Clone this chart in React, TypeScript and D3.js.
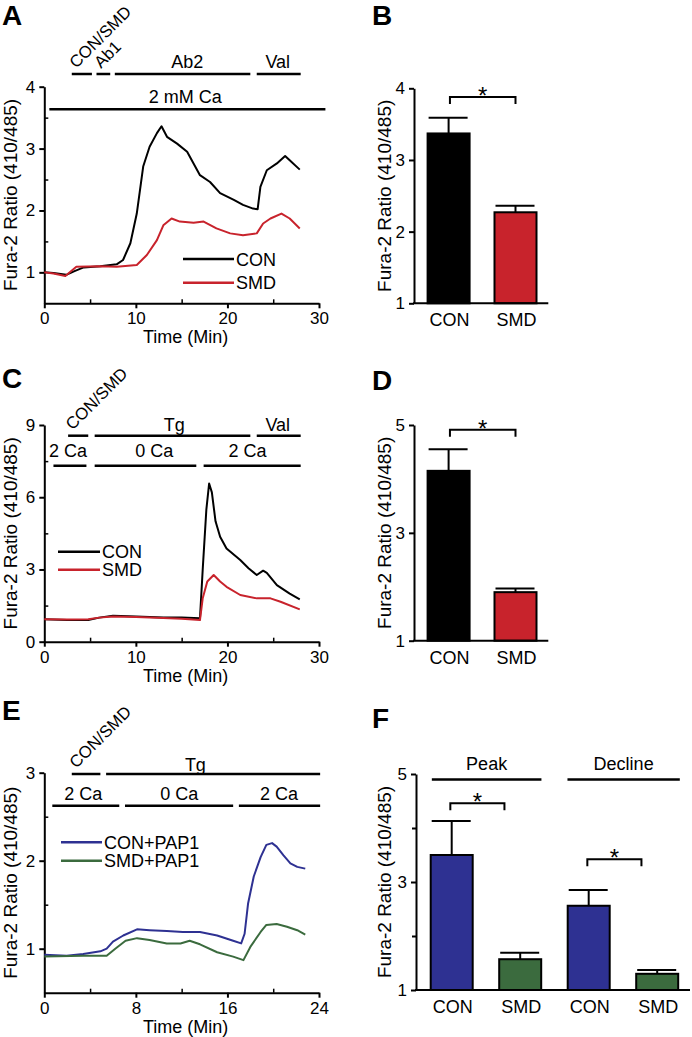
import React, { useEffect, useRef } from 'react';
import * as d3 from 'd3';

type Pt = [number, number];

const FONT = '"Liberation Sans", Arial, Helvetica, sans-serif';
const RED = '#c8232c';
const BLUE = '#2e3192';
const GREEN = '#3b6b3e';

// traces: [time (min), Fura-2 ratio]
const conA: Pt[] = [[0, 1.0], [1, 0.99], [2.4, 0.96], [3.3, 1.02], [4.3, 1.08], [6.1, 1.1], [7.9, 1.13], [8.6, 1.2], [9.4, 1.47], [10.1, 1.95], [10.8, 2.71], [11.5, 3.03], [12.3, 3.25], [12.8, 3.36], [13.4, 3.19], [14.5, 3.08], [15.6, 2.95], [16.3, 2.76], [17.0, 2.57], [18.1, 2.46], [19.2, 2.28], [20.7, 2.17], [21.7, 2.09], [22.8, 2.03], [23.3, 2.02], [23.6, 2.38], [24.3, 2.65], [25.4, 2.76], [26.3, 2.88], [26.8, 2.81], [27.9, 2.66]];
const smdA: Pt[] = [[0, 1.0], [1, 0.98], [2.3, 0.94], [3.5, 1.09], [6.1, 1.1], [7.9, 1.09], [10.1, 1.12], [11.2, 1.28], [12.3, 1.52], [13.0, 1.76], [13.9, 1.87], [14.8, 1.82], [16.3, 1.8], [17.4, 1.82], [18.8, 1.71], [20.3, 1.63], [21.7, 1.6], [23.2, 1.63], [23.9, 1.79], [24.7, 1.87], [25.9, 1.95], [26.8, 1.87], [27.9, 1.71]];

const conC: Pt[] = [[0, 0.93], [2.5, 0.9], [4.8, 0.9], [6, 1.0], [7.5, 1.08], [10, 1.05], [13, 1.0], [15, 1.0], [17.0, 0.97], [17.3, 3.0], [17.7, 5.5], [18.0, 6.57], [18.3, 6.2], [18.7, 5.0], [19.2, 4.36], [19.9, 3.87], [21.4, 3.39], [22.3, 3.05], [23.2, 2.77], [23.9, 2.95], [24.3, 2.86], [25.4, 2.35], [26.8, 2.0], [27.9, 1.76]];
const smdC: Pt[] = [[0, 0.93], [2.5, 0.92], [4.8, 0.93], [6, 1.0], [7.5, 1.05], [10, 1.03], [13, 0.98], [15, 0.95], [17.0, 0.9], [17.3, 1.8], [17.8, 2.5], [18.5, 2.77], [19.2, 2.5], [19.9, 2.28], [21.4, 1.94], [23.2, 1.8], [24.7, 1.8], [25.8, 1.66], [27.9, 1.34]];

const conE: Pt[] = [[0, 0.93], [1.95, 0.92], [3.4, 0.94], [4.9, 0.97], [5.45, 1.0], [6.0, 1.08], [6.9, 1.15], [8.1, 1.22], [9.2, 1.21], [10.7, 1.2], [12.1, 1.19], [13.6, 1.19], [15.1, 1.15], [16.5, 1.09], [17.2, 1.06], [17.5, 1.17], [17.8, 1.51], [18.3, 1.82], [18.9, 2.04], [19.4, 2.18], [19.9, 2.2], [20.3, 2.16], [20.9, 2.06], [21.5, 1.97], [22.1, 1.93], [22.8, 1.91]];
const smdE: Pt[] = [[0, 0.91], [3.4, 0.92], [5.45, 0.92], [6.2, 1.0], [7.1, 1.09], [8.1, 1.12], [9.2, 1.1], [10.7, 1.06], [11.9, 1.06], [12.7, 1.09], [13.6, 1.05], [15.1, 0.96], [16.5, 0.91], [17.4, 0.87], [18.0, 1.02], [18.9, 1.19], [19.4, 1.27], [20.3, 1.28], [21.2, 1.25], [22.1, 1.21], [22.8, 1.16]];

// bar summaries (mean, sem)
const catsB = ['CON', 'SMD'];
const meanB = [3.37, 2.27];
const semB = [0.22, 0.09];
const catsD = ['CON', 'SMD'];
const meanD = [4.15, 1.9];
const semD = [0.4, 0.07];
const catsF = ['CON', 'SMD', 'CON', 'SMD'];
const meanF = [3.5, 1.57, 2.56, 1.3];
const semF = [0.63, 0.12, 0.29, 0.07];
const groupsF = ['Peak', 'Decline'];

// treatment periods: label, start, end, label position (min)
interface Step { label: string; start: number; end: number; at: number; rot?: boolean }
const stepsA: Step[] = [
  { label: 'CON/SMD', start: 3.0, end: 5.2, at: 3.0, rot: true },
  { label: 'Ab1', start: 5.7, end: 7.2, at: 5.7, rot: true },
  { label: 'Ab2', start: 7.7, end: 22.5, at: 15.6 },
  { label: 'Val', start: 23.2, end: 28, at: 25.5 },
];
const calciumA: Step[] = [{ label: '2 mM Ca', start: 0.55, end: 30.7, at: 15.4 }];
const stepsC: Step[] = [
  { label: 'CON/SMD', start: 2.6, end: 4.8, at: 2.6, rot: true },
  { label: 'Tg', start: 5.5, end: 22.5, at: 14.2 },
  { label: 'Val', start: 23.2, end: 28, at: 25.5 },
];
const calciumC: Step[] = [
  { label: '2 Ca', start: 1.0, end: 4.6, at: 2.6 },
  { label: '0 Ca', start: 5.5, end: 16.6, at: 12.0 },
  { label: '2 Ca', start: 17.4, end: 28, at: 22.2 },
];
const stepsE: Step[] = [
  { label: 'CON/SMD', start: 2.4, end: 4.9, at: 2.4, rot: true },
  { label: 'Tg', start: 5.4, end: 24.1, at: 13.2 },
];
const calciumE: Step[] = [
  { label: '2 Ca', start: 0.7, end: 6.55, at: 3.4 },
  { label: '0 Ca', start: 7.05, end: 16.5, at: 11.8 },
  { label: '2 Ca', start: 17.0, end: 24.1, at: 20.5 },
];

type G = d3.Selection<SVGGElement, unknown, null, undefined>;
const fmt = d3.format('d');

function styleAxis(g: G, size: number) {
  g.select('.domain').attr('stroke', '#000').attr('stroke-width', 2);
  g.selectAll('.tick line').attr('stroke', '#000').attr('stroke-width', 2);
  g.selectAll('.tick text').attr('fill', '#000').attr('font-size', size).attr('font-family', FONT);
}

function letter(svg: G, t: string, x: number, y: number) {
  svg.append('text').attr('x', x).attr('y', y).attr('font-size', 28).attr('font-weight', 'bold')
    .attr('font-family', FONT).text(t);
}

function yLabel(svg: G, x: number, y: number) {
  svg.append('text').attr('transform', `translate(${x},${y}) rotate(-90)`).attr('text-anchor', 'middle')
    .attr('font-size', 19).attr('font-family', FONT).text('Fura-2 Ratio (410/485)');
}

interface TraceCfg {
  letter: string; ly: number;
  x: d3.ScaleLinear<number, number>; y: d3.ScaleLinear<number, number>;
  xMajor: number[]; xMinor: number[]; yMajor: number[]; yMinor: number[];
  series: { pts: Pt[]; color: string; label: string }[];
  legend: { x1: number; x2: number; y: number; gap: number };
  rows: { steps: Step[]; y: number; textDy: number }[];
}

function drawTrace(svg: G, c: TraceCfg) {
  const [x0, x1] = c.x.range();
  const [yb, yt] = c.y.range();
  letter(svg, c.letter, 2, c.ly);

  const ga = svg.append('g').attr('transform', `translate(0,${yb})`);
  ga.call(d3.axisBottom(c.x).tickValues(c.xMajor).tickFormat(d => fmt(d as number))
    .tickSize(5).tickSizeOuter(0).tickPadding(4));
  styleAxis(ga, 17);
  const gm = svg.append('g').attr('transform', `translate(0,${yb})`);
  gm.call(d3.axisTop(c.x).tickValues(c.xMinor).tickSize(4).tickFormat(() => ''));
  gm.select('.domain').remove();
  gm.selectAll('.tick line').attr('stroke', '#000').attr('stroke-width', 1.5);

  const gy = svg.append('g').attr('transform', `translate(${x0},0)`);
  gy.call(d3.axisLeft(c.y).tickValues(c.yMajor).tickFormat(d => fmt(d as number))
    .tickSize(5).tickSizeOuter(0).tickPadding(4));
  styleAxis(gy, 17);
  const gym = svg.append('g').attr('transform', `translate(${x0},0)`);
  gym.call(d3.axisRight(c.y).tickValues(c.yMinor).tickSize(4).tickFormat(() => ''));
  gym.select('.domain').remove();
  gym.selectAll('.tick line').attr('stroke', '#000').attr('stroke-width', 1.5);

  svg.append('text').attr('x', (x0 + x1) / 2 + 4).attr('y', yb + 40).attr('text-anchor', 'middle')
    .attr('font-size', 18).attr('font-family', FONT).text('Time (Min)');
  yLabel(svg, 17, (yb + yt) / 2);

  const line = d3.line<Pt>().x(d => c.x(d[0])).y(d => c.y(d[1]));
  c.series.forEach(s => {
    svg.append('path').datum(s.pts).attr('d', line).attr('fill', 'none')
      .attr('stroke', s.color).attr('stroke-width', 2).attr('stroke-linejoin', 'round');
  });

  c.series.forEach((s, i) => {
    const ly = c.legend.y + i * c.legend.gap;
    svg.append('line').attr('x1', c.legend.x1).attr('x2', c.legend.x2).attr('y1', ly).attr('y2', ly)
      .attr('stroke', s.color).attr('stroke-width', 2.5);
    svg.append('text').attr('x', c.legend.x2 + 2).attr('y', ly + 6.5).attr('font-size', 18)
      .attr('font-family', FONT).text(s.label);
  });

  c.rows.forEach(r => {
    r.steps.forEach(s => {
      svg.append('line').attr('x1', c.x(s.start)).attr('x2', c.x(s.end)).attr('y1', r.y).attr('y2', r.y)
        .attr('stroke', '#000').attr('stroke-width', 2.5);
      const t = svg.append('text').attr('font-family', FONT).text(s.label);
      if (s.rot) {
        t.attr('font-size', 16.8).attr('transform', `translate(${c.x(s.at) + 4.5},${r.y - 5}) rotate(-45)`);
      } else {
        t.attr('font-size', 18).attr('x', c.x(s.at)).attr('y', r.y + r.textDy).attr('text-anchor', 'middle');
      }
    });
  });
}

interface BarCfg {
  letter: string; ly: number;
  x: d3.ScaleLinear<number, number>; y: d3.ScaleLinear<number, number>;
  axisX: [number, number];
  yMajor: number[]; yMinor: number[];
  cats: string[]; mean: number[]; sem: number[]; colors: string[];
  brackets: { from: number; to: number; level: number }[];
  groups?: { label: string; from: number; to: number; level: number }[];
}

function drawBars(svg: G, c: BarCfg) {
  const [yb, yt] = c.y.range();
  const bw = 42;
  letter(svg, c.letter, 372, c.ly);

  c.mean.forEach((m, i) => {
    const cx = c.x(i);
    svg.append('line').attr('x1', cx).attr('x2', cx).attr('y1', c.y(m)).attr('y2', c.y(m + c.sem[i]))
      .attr('stroke', '#000').attr('stroke-width', 2);
    svg.append('line').attr('x1', cx - bw / 2 + 1).attr('x2', cx + bw / 2 - 2)
      .attr('y1', c.y(m + c.sem[i])).attr('y2', c.y(m + c.sem[i])).attr('stroke', '#000').attr('stroke-width', 2);
    svg.append('rect').attr('x', cx - bw / 2).attr('y', c.y(m)).attr('width', bw).attr('height', yb - c.y(m))
      .attr('fill', c.colors[i]).attr('stroke', '#000').attr('stroke-width', 2);
    svg.append('text').attr('x', cx + 1).attr('y', yb + 23).attr('text-anchor', 'middle').attr('font-size', 18)
      .attr('font-family', FONT).text(c.cats[i]);
  });

  const gy = svg.append('g').attr('transform', `translate(${c.axisX[0]},0)`);
  gy.call(d3.axisLeft(c.y).tickValues(c.yMajor).tickFormat(d => fmt(d as number))
    .tickSize(5).tickSizeOuter(0).tickPadding(4));
  styleAxis(gy, 17);
  if (c.yMinor.length) {
    const gm = svg.append('g').attr('transform', `translate(${c.axisX[0]},0)`);
    gm.call(d3.axisLeft(c.y).tickValues(c.yMinor).tickSize(4).tickFormat(() => ''));
    gm.select('.domain').remove();
    gm.selectAll('.tick line').attr('stroke', '#000').attr('stroke-width', 2);
  }
  svg.append('line').attr('x1', c.axisX[0] - 1).attr('x2', c.axisX[1]).attr('y1', yb).attr('y2', yb)
    .attr('stroke', '#000').attr('stroke-width', 2);
  yLabel(svg, 391, (yb + yt) / 2);

  c.brackets.forEach(b => {
    const xa = c.x(b.from), xb = c.x(b.to), yy = c.y(b.level);
    svg.append('path').attr('d', `M${xa},${yy + 7}V${yy}H${xb}V${yy + 7}`).attr('fill', 'none')
      .attr('stroke', '#000').attr('stroke-width', 2);
    svg.append('text').attr('x', (xa + xb) / 2).attr('y', yy + 7).attr('text-anchor', 'middle')
      .attr('font-size', 24).attr('font-family', FONT).text('*');
  });

  (c.groups || []).forEach(g => {
    const yy = c.y(g.level);
    svg.append('line').attr('x1', c.x(g.from)).attr('x2', c.x(g.to)).attr('y1', yy).attr('y2', yy)
      .attr('stroke', '#000').attr('stroke-width', 2.5);
    svg.append('text').attr('x', (c.x(g.from) + c.x(g.to)) / 2).attr('y', yy - 9).attr('text-anchor', 'middle')
      .attr('font-size', 18).attr('font-family', FONT).text(g.label);
  });
}

const App: React.FC = () => {
  const ref = useRef<SVGSVGElement>(null);

  useEffect(() => {
    if (!ref.current) return;
    const root = d3.select(ref.current);
    root.selectAll('*').remove();
    const svg = root.append('g') as unknown as G;

    const xT = d3.scaleLinear().domain([0, 30]).range([44.3, 319]);

    drawTrace(svg, {
      letter: 'A', ly: 25,
      x: xT, y: d3.scaleLinear().domain([0.5, 4]).range([303.3, 86.7]),
      xMajor: [0, 10, 20, 30], xMinor: [5, 15, 25], yMajor: [1, 2, 3, 4], yMinor: [1.5, 2.5, 3.5],
      series: [{ pts: conA, color: '#000', label: 'CON' }, { pts: smdA, color: RED, label: 'SMD' }],
      legend: { x1: 183, x2: 234, y: 259, gap: 23.7 },
      rows: [{ steps: stepsA, y: 74, textDy: -6 }, { steps: calciumA, y: 109.3, textDy: -6.5 }],
    });

    drawTrace(svg, {
      letter: 'C', ly: 388,
      x: xT, y: d3.scaleLinear().domain([0, 9]).range([641.7, 425]),
      xMajor: [0, 10, 20, 30], xMinor: [5, 15, 25], yMajor: [0, 3, 6, 9], yMinor: [1.5, 4.5, 7.5],
      series: [{ pts: conC, color: '#000', label: 'CON' }, { pts: smdC, color: RED, label: 'SMD' }],
      legend: { x1: 58, x2: 100, y: 551.7, gap: 18 },
      rows: [{ steps: stepsC, y: 435.7, textDy: -4.5 }, { steps: calciumC, y: 465.7, textDy: -9 }],
    });

    drawTrace(svg, {
      letter: 'E', ly: 720,
      x: d3.scaleLinear().domain([0, 24]).range([44.3, 319]),
      y: d3.scaleLinear().domain([0.5, 3]).range([992.7, 772.7]),
      xMajor: [0, 8, 16, 24], xMinor: [4, 12, 20], yMajor: [1, 2, 3], yMinor: [1.5, 2.5],
      series: [{ pts: conE, color: BLUE, label: 'CON+PAP1' }, { pts: smdE, color: GREEN, label: 'SMD+PAP1' }],
      legend: { x1: 61, x2: 102, y: 842.3, gap: 18.4 },
      rows: [{ steps: stepsE, y: 774, textDy: -3 }, { steps: calciumE, y: 805.7, textDy: -5.7 }],
    });

    drawBars(svg, {
      letter: 'B', ly: 25,
      x: d3.scaleLinear().domain([0, 1]).range([448.6, 515.5]),
      y: d3.scaleLinear().domain([1, 4]).range([303.3, 88.3]),
      axisX: [414, 548.3], yMajor: [1, 2, 3, 4], yMinor: [],
      cats: catsB, mean: meanB, sem: semB, colors: ['#000', RED],
      brackets: [{ from: 0.02, to: 1.0, level: 3.88 }],
    });

    drawBars(svg, {
      letter: 'D', ly: 390,
      x: d3.scaleLinear().domain([0, 1]).range([448.6, 515.5]),
      y: d3.scaleLinear().domain([1, 5]).range([640.7, 425]),
      axisX: [414, 548.3], yMajor: [1, 3, 5], yMinor: [],
      cats: catsD, mean: meanD, sem: semD, colors: ['#000', RED],
      brackets: [{ from: 0.02, to: 1.0, level: 4.91 }],
    });

    drawBars(svg, {
      letter: 'F', ly: 728,
      x: d3.scaleLinear().domain([0, 3]).range([451.7, 657.2]),
      y: d3.scaleLinear().domain([1, 5]).range([990, 774]),
      axisX: [416, 690], yMajor: [1, 3, 5], yMinor: [2, 4],
      cats: catsF, mean: meanF, sem: semF, colors: [BLUE, GREEN, BLUE, GREEN],
      brackets: [{ from: -0.02, to: 0.77, level: 4.46 }, { from: 1.98, to: 2.77, level: 3.42 }],
      groups: [
        { label: groupsF[0], from: -0.29, to: 1.31, level: 4.9 },
        { label: groupsF[1], from: 1.69, to: 3.33, level: 4.9 },
      ],
    });
  }, []);

  return (
    <svg ref={ref} width={692} height={1037}
      style={{ position: 'absolute', left: 0, top: 0, background: '#fff' }} />
  );
};

export default App;
